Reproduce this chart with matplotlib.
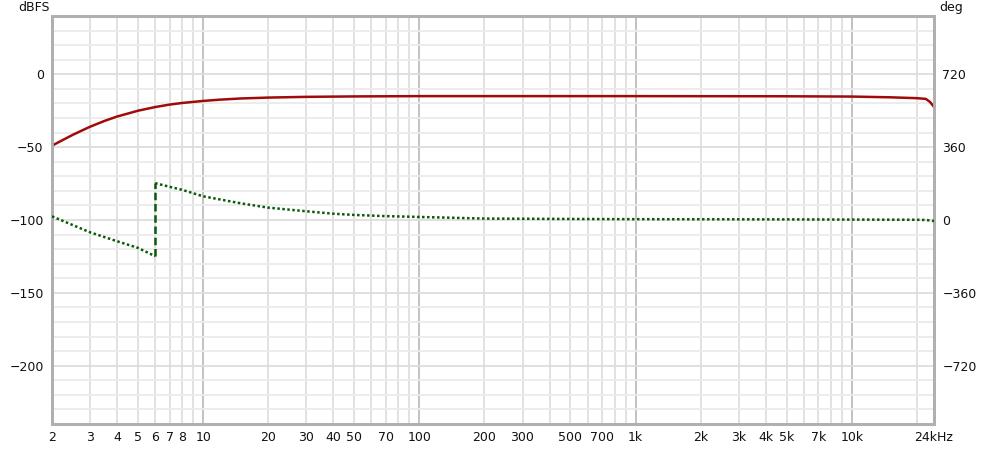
import numpy as np
import matplotlib
matplotlib.use("Agg")
import matplotlib.pyplot as plt
from matplotlib.ticker import FixedLocator, NullFormatter

# Magnitude response (dBFS)
mag_freq = [2, 2.25, 2.5, 2.75, 3, 3.5, 4, 4.5, 5, 6, 7, 8, 10, 12, 15, 20,
            30, 50, 100, 1000, 5000, 10000, 15000, 20000, 22000, 23000, 24000]
mag_db = [-49, -45.0, -41.5, -38.6, -36.0, -32.0, -29.0, -26.9, -25.0, -22.5,
          -20.8, -19.7, -18.3, -17.4, -16.6, -16.0,
          -15.5, -15.2, -15.0, -15.0, -15.1, -15.3, -15.8, -16.4, -16.9,
          -19.0, -22.4]

# Phase response (deg), wraps at 6 Hz
ph_lo_freq = [2, 3, 4, 5, 6]
ph_lo_deg = [18, -61, -105, -138, -179]
ph_hi_freq = [6, 7, 8, 10, 15, 20, 30, 40, 50, 70, 100, 200, 500, 1000,
              5000, 10000, 20000, 22000, 24000]
ph_hi_deg = [182, 164, 149, 117, 82, 61, 43, 31, 25, 19, 15, 7, 5, 4,
             3, 2, 1, 0, -5]

x_ticks = [2, 3, 4, 5, 6, 7, 8, 10, 20, 30, 40, 50, 70, 100, 200, 300, 500,
           700, 1000, 2000, 3000, 4000, 5000, 7000, 10000, 24000]
x_labels = ["2", "3", "4", "5", "6", "7", "8", "10", "20", "30", "40", "50",
            "70", "100", "200", "300", "500", "700", "1k", "2k", "3k", "4k",
            "5k", "7k", "10k", "24kHz"]
db_ticks = [0, -50, -100, -150, -200]
deg_ticks = [720, 360, 0, -360, -720]

red = "#a00a0a"
green = "#0a5a0a"

fig = plt.figure(figsize=(10, 4.49), dpi=100)
ax = fig.add_axes([0.052, 0.0557, 0.882, 0.9087])
ax.set_xscale("log")
ax.set_xlim(2, 24000)
ax.set_ylim(-240, 40)

# grid lines
for dec in [1, 10, 100, 1000, 10000]:
    for m in range(1, 10):
        f = dec * m
        if f <= 2 or f >= 24000:
            continue
        c = "#bdbdbd" if m == 1 else "#dedede"
        ax.axvline(f, color=c, lw=1.3, zorder=0)
for y in range(-230, 40, 10):
    c = "#dddddd" if y % 50 == 0 else "#ebebeb"
    ax.axhline(y, color=c, lw=1.3, zorder=0)

ax.plot(mag_freq, mag_db, color=red, lw=1.8, zorder=3)

ax2 = ax.twinx()
ax2.set_ylim(-1008, 1008)
ax2.plot(ph_lo_freq, ph_lo_deg, color=green, lw=1.8, ls=(0, (1, 1)), zorder=3)
ax2.plot(ph_hi_freq, ph_hi_deg, color=green, lw=1.8, ls=(0, (1, 1)), zorder=3)
ax2.plot([ph_lo_freq[-1], ph_hi_freq[0]], [ph_lo_deg[-1], ph_hi_deg[0]],
         color=green, lw=1.8, ls=(0, (3, 1.5)), zorder=3)

ax.xaxis.set_major_locator(FixedLocator(x_ticks))
ax.set_xticklabels(x_labels)
ax.xaxis.set_minor_formatter(NullFormatter())
ax.xaxis.set_minor_locator(FixedLocator([]))
ax.set_yticks(db_ticks)
ax2.set_yticks(deg_ticks)
ax.tick_params(axis="both", length=0, labelsize=9, colors="#111111")
ax.tick_params(axis="y", pad=6)
ax.tick_params(axis="x", pad=5)
ax2.tick_params(axis="y", length=0, labelsize=9, colors="#111111", pad=6)

for a in (ax, ax2):
    for s in a.spines.values():
        s.set_color("#b0b0b0")
        s.set_linewidth(2)

fig.text(0.034, 0.984, "dBFS", fontsize=9, ha="center", va="center",
         color="#111111")
fig.text(0.951, 0.984, "deg", fontsize=9, ha="center", va="center",
         color="#111111")

fig.savefig("out.png", dpi=100, facecolor="white")
